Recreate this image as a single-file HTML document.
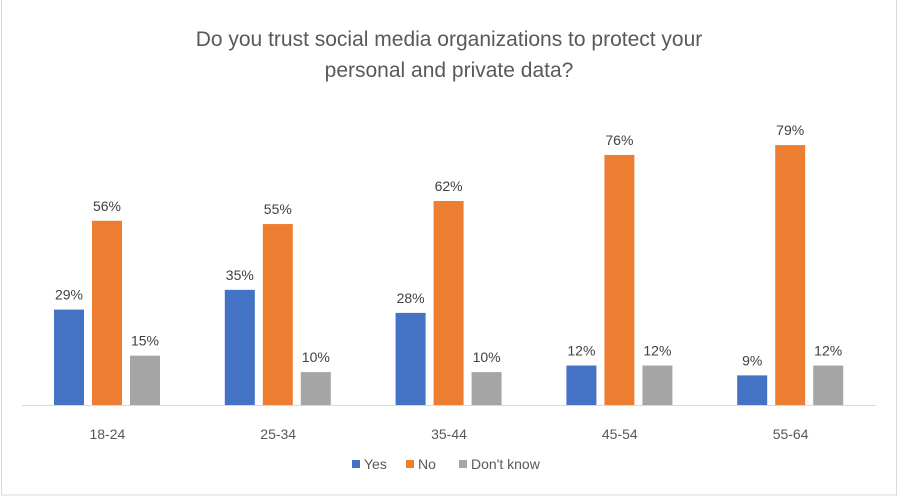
<!DOCTYPE html>
<html><head><meta charset="utf-8"><style>
body{margin:0;background:#fff;font-family:"Liberation Sans",sans-serif}
#wrap{position:relative;width:899px;height:497px;overflow:hidden}
</style></head><body>
<div id="wrap">
<svg id="svg" width="899" height="497" xmlns="http://www.w3.org/2000/svg">
<rect x="1.5" y="-2" width="895" height="497" fill="#fff" stroke="#d9d9d9"/>
<text x="449" y="46" text-anchor="middle" font-size="21" fill="#595959">Do you trust social media organizations to protect your</text>
<text x="449" y="77" text-anchor="middle" font-size="21" fill="#595959">personal and private data?</text>
<g id="bars"></g>
<line x1="22" y1="405.5" x2="876" y2="405.5" stroke="#d9d9d9"/>
<g>
<rect x="352" y="460" width="8" height="8" fill="#4472c4"/>
<text x="364" y="469" font-size="14" fill="#595959">Yes</text>
<rect x="406" y="460" width="8" height="8" fill="#ed7d31"/>
<text x="418" y="469" font-size="14" fill="#595959">No</text>
<rect x="459" y="460" width="8" height="8" fill="#a5a5a5"/>
<text x="471" y="469" font-size="14" fill="#595959">Don't know</text>
</g>
</svg>
</div>
<script>
const categories=["18-24","25-34","35-44","45-54","55-64"];
const yesValues=[29,35,28,12,9];
const noValues=[56,55,62,76,79];
const dkValues=[15,10,10,12,12];
const seriesNames=["yes","no","dont-know"];
const colors=["#4472c4","#ed7d31","#a5a5a5"];
const series=[yesValues,noValues,dkValues];
const NS="http://www.w3.org/2000/svg";
const g=document.getElementById('bars');
const left=22,right=876,base=405,pxPer=3.29;
const band=(right-left)/categories.length;
function xBand(i){return left+i*band;}
function yScale(v){return base-v*pxPer;}
categories.forEach((c,i)=>{
  series.forEach((s,k)=>{
    const x=xBand(i)+32+k*38, y=yScale(s[i]);
    const r=document.createElementNS(NS,'rect');
    r.setAttribute('x',x);r.setAttribute('y',y);r.setAttribute('width',30);r.setAttribute('height',base-y);r.setAttribute('fill',colors[k]);
    
    
    g.appendChild(r);
    const t=document.createElementNS(NS,'text');
    t.setAttribute('x',x+15);t.setAttribute('y',y-10);t.setAttribute('text-anchor','middle');t.setAttribute('font-size','14');t.setAttribute('fill','#404040');
    t.textContent=s[i]+'%';
    
    
    g.appendChild(t);
  });
  const l=document.createElementNS(NS,'text');
  l.setAttribute('x',xBand(i)+band/2);l.setAttribute('y',439);l.setAttribute('text-anchor','middle');l.setAttribute('font-size','14');l.setAttribute('fill','#595959');
  l.textContent=c;
  
  
  g.appendChild(l);
});
</script>
</body></html>
